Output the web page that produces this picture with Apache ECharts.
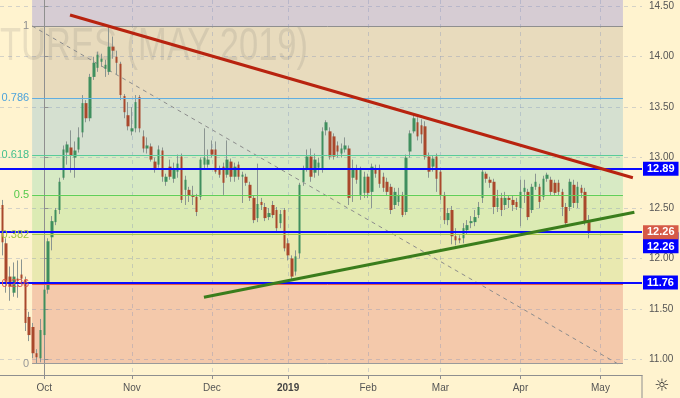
<!DOCTYPE html>
<html>
<head>
<meta charset="utf-8">
<script src="https://cdn.jsdelivr.net/npm/echarts@6/dist/echarts.min.js"></script>
<style>
html, body { margin: 0; padding: 0; background: #fff3cf; }
#chart { width: 680px; height: 398px; }
</style>
</head>
<body>
<div id="chart"></div>
<script>
// daily bars, index 0 = first trading day of Oct 2018
var firstBar = -11;
var open = [
    12.53, 12.15, 11.82, 11.66, 11.80, 11.84, 11.79, 11.42, 11.32, 11.06,
    11.01, 11.24, 11.69, 12.21, 12.36, 12.48, 12.80, 13.05, 13.10, 13.00,
    13.08, 13.25, 13.54, 13.39, 13.80, 13.89, 13.95, 13.88, 13.85, 14.10,
    14.00, 13.93, 13.61, 13.42, 13.26, 13.29, 13.60, 13.21, 13.09, 13.11,
    12.96, 12.93, 13.07, 12.76, 12.91, 12.79, 12.86, 13.01, 12.68, 12.68,
    12.63, 12.61, 12.61, 12.93, 12.93, 13.08, 13.08, 12.88, 12.91, 12.83,
    12.96, 12.81, 12.93, 12.81, 12.81, 12.73, 12.60, 12.40, 12.56, 12.51,
    12.41, 12.53, 12.48, 12.35, 12.48, 12.15, 12.00, 11.87, 12.05, 12.76,
    12.89, 13.01, 12.85, 12.90, 12.89, 13.27, 13.26, 13.21, 13.12, 13.04,
    13.08, 13.09, 12.80, 12.89, 12.63, 12.65, 12.81, 12.66, 12.89, 12.89,
    12.81, 12.76, 12.71, 12.53, 12.56, 12.63, 12.46, 13.06, 13.26, 13.35,
    13.32, 13.31, 13.01, 12.91, 13.01, 12.86, 12.63, 12.38, 12.48, 12.22,
    12.20, 12.20, 12.28, 12.35, 12.36, 12.43, 12.60, 12.84, 12.78, 12.76,
    12.51, 12.60, 12.53, 12.60, 12.58, 12.56, 12.50, 12.66, 12.66, 12.48,
    12.71, 12.71, 12.61, 12.79, 12.78, 12.75, 12.75, 12.66, 12.51, 12.51,
    12.73, 12.55, 12.70, 12.66, 12.36
];
var close = [
    12.16, 11.77, 11.72, 11.82, 11.78, 11.80, 11.36, 11.24, 11.06, 11.02,
    11.29, 11.69, 12.17, 12.37, 12.48, 12.76, 13.08, 13.13, 13.02, 13.07,
    13.20, 13.54, 13.39, 13.80, 13.94, 14.02, 13.98, 13.92, 14.10, 14.06,
    13.94, 13.62, 13.45, 13.31, 13.29, 13.55, 13.29, 13.09, 13.12, 12.98,
    12.88, 13.08, 12.81, 12.81, 12.81, 12.89, 12.94, 12.58, 12.78, 12.62,
    12.61, 12.46, 12.98, 13.00, 12.98, 13.03, 12.86, 12.83, 12.75, 12.98,
    12.81, 12.91, 12.81, 12.83, 12.75, 12.60, 12.38, 12.54, 12.53, 12.40,
    12.45, 12.43, 12.30, 12.44, 12.10, 12.03, 11.82, 12.02, 12.73, 12.88,
    13.01, 12.81, 12.98, 12.95, 13.26, 13.35, 13.01, 13.01, 13.06, 13.09,
    13.12, 12.60, 12.88, 12.78, 12.88, 12.81, 12.65, 12.91, 12.84, 12.74,
    12.70, 12.66, 12.48, 12.66, 12.63, 12.43, 13.00, 13.24, 13.39, 13.21,
    13.23, 13.01, 12.86, 12.99, 12.79, 12.63, 12.38, 12.45, 12.22, 12.18,
    12.18, 12.30, 12.33, 12.37, 12.41, 12.51, 12.86, 12.79, 12.75, 12.51,
    12.60, 12.48, 12.60, 12.58, 12.53, 12.51, 12.66, 12.70, 12.41, 12.71,
    12.76, 12.56, 12.79, 12.83, 12.66, 12.65, 12.66, 12.51, 12.35, 12.76,
    12.55, 12.71, 12.65, 12.36, 12.26
];
var low = [
    12.03, 11.66, 11.58, 11.62, 11.61, 11.74, 11.28, 11.18, 11.01, 10.96,
    10.97, 11.12, 11.65, 12.08, 12.33, 12.44, 12.78, 12.93, 12.85, 12.80,
    13.05, 13.20, 13.35, 13.36, 13.77, 13.85, 13.90, 13.80, 13.82, 13.98,
    13.82, 13.57, 13.39, 13.27, 13.22, 13.25, 13.25, 13.05, 13.04, 12.96,
    12.85, 12.90, 12.76, 12.72, 12.78, 12.75, 12.80, 12.55, 12.53, 12.56,
    12.53, 12.42, 12.58, 12.88, 12.90, 13.00, 12.84, 12.80, 12.63, 12.80,
    12.76, 12.76, 12.78, 12.55, 12.72, 12.57, 12.35, 12.36, 12.48, 12.37,
    12.38, 12.40, 12.27, 12.30, 12.07, 11.98, 11.79, 11.83, 12.00, 12.72,
    12.86, 12.76, 12.80, 12.82, 12.85, 13.22, 12.98, 12.98, 13.00, 13.00,
    13.05, 12.53, 12.56, 12.74, 12.58, 12.60, 12.60, 12.50, 12.80, 12.70,
    12.66, 12.62, 12.44, 12.49, 12.52, 12.41, 12.43, 13.00, 13.24, 13.17,
    13.14, 12.98, 12.80, 12.86, 12.66, 12.58, 12.34, 12.33, 12.14, 12.13,
    12.15, 12.15, 12.24, 12.30, 12.32, 12.40, 12.55, 12.75, 12.70, 12.44,
    12.46, 12.42, 12.48, 12.50, 12.47, 12.48, 12.32, 12.55, 12.38, 12.45,
    12.68, 12.50, 12.58, 12.76, 12.62, 12.62, 12.62, 12.42, 12.32, 12.47,
    12.50, 12.50, 12.60, 12.33, 12.20
];
var high = [
    12.58, 12.20, 11.92, 11.96, 11.98, 11.99, 11.82, 11.47, 11.36, 11.10,
    11.40, 11.74, 12.20, 12.42, 12.50, 12.80, 13.12, 13.16, 13.27, 13.16,
    13.30, 13.62, 13.57, 13.83, 14.00, 14.05, 14.03, 13.97, 14.30, 14.20,
    14.06, 13.95, 13.63, 13.55, 13.50, 13.62, 13.62, 13.27, 13.20, 13.14,
    13.00, 13.12, 13.10, 12.84, 12.98, 12.95, 13.03, 13.04, 12.82, 12.71,
    12.72, 12.64, 13.00, 13.29, 13.08, 13.17, 13.16, 12.92, 12.95, 13.17,
    12.99, 12.95, 12.96, 12.86, 12.84, 12.76, 12.62, 12.94, 12.60, 12.55,
    12.50, 12.57, 12.51, 12.48, 12.50, 12.20, 12.03, 12.08, 12.75, 12.92,
    13.08, 13.09, 13.04, 13.00, 13.30, 13.37, 13.30, 13.24, 13.16, 13.14,
    13.20, 13.12, 12.98, 12.93, 12.91, 12.86, 12.84, 12.94, 12.93, 12.93,
    12.85, 12.80, 12.74, 12.70, 12.70, 12.66, 13.03, 13.27, 13.43, 13.40,
    13.38, 13.36, 13.05, 13.02, 13.04, 12.90, 12.66, 12.50, 12.52, 12.30,
    12.23, 12.35, 12.38, 12.42, 12.48, 12.56, 12.88, 12.86, 12.81, 12.79,
    12.68, 12.65, 12.66, 12.62, 12.62, 12.60, 12.78, 12.78, 12.69, 12.74,
    12.84, 12.74, 12.82, 12.85, 12.81, 12.78, 12.78, 12.69, 12.55, 12.79,
    12.78, 12.76, 12.73, 12.70, 12.43
];

// axis ticks
var monthBars = [0, 23, 44, 64, 85, 104, 125, 146];
var monthLabels = ['Oct', 'Nov', 'Dec', '2019', 'Feb', 'Mar', 'Apr', 'May'];
var priceTicks = [11.00, 11.50, 12.00, 12.50, 13.00, 13.50, 14.00, 14.50];

// fibonacci retracement
var fibLow = 10.956, fibHigh = 14.305;
var fibStartBar = -3.2, fibEndBar = 151.9;
var fibRatios = [0, 0.236, 0.382, 0.5, 0.618, 0.786, 1, 1.618];
var fibLabels = ['0', '0.236', '0.382', '0.5', '0.618', '0.786', '1'];

// drawn lines
var redTrend = [[6.75, 14.414], [154.5, 12.80]];
var greenTrend = [[41.9, 11.615], [154.9, 12.458]];
var fibDiagonal = [[-3.2, 14.305], [150.5, 10.956]];
var blueLevels = [12.89, 12.26, 11.76];
var lastPrice = 12.26;

var bandColors = ['#f4c9ab', '#e9e9b0', '#dcebb4', '#d7eac4', '#d5e0d0', '#e8dbbd', '#d6ccd3'];
var fibLineColors = ['#9a9a9a', '#e85a4a', '#a9c94a', '#5fcf5a', '#5acb9a', '#62aee0', '#8f8f8f'];
var fibTextColors = ['#999999', '#e05545', '#9ec43c', '#55c94b', '#45c08e', '#4ea3db', '#909090'];

function fibValue(r) {
    return fibLow + r * (fibHigh - fibLow);
}

var wickData = open.map(function (o, k) {
    return [firstBar + k, o, close[k], low[k], high[k]];
});
var bodyData = open.map(function (o, k) {
    return [firstBar + k, o, close[k], Math.min(o, close[k]), Math.max(o, close[k])];
});

var bands = [];
for (var k = 0; k < fibRatios.length - 1; k++) {
    bands.push([
        { coord: [fibStartBar, fibValue(fibRatios[k])], itemStyle: { color: bandColors[k] } },
        { coord: [fibEndBar, fibValue(fibRatios[k + 1])] }
    ]);
}
var fibLines = fibLabels.map(function (t, k) {
    var v = fibValue(fibRatios[k]);
    return [
        {
            coord: [fibStartBar, v],
            lineStyle: { color: fibLineColors[k], width: 1, type: 'solid' },
            label: { show: true, position: 'start', distance: 3, formatter: t, color: fibTextColors[k], fontSize: 11 }
        },
        { coord: [fibEndBar, v] }
    ];
});

var priceLines = blueLevels.map(function (v, k) {
    var item = { yAxis: v };
    if (k === 1) {
        item.label = { verticalAlign: 'top', padding: [9, 4, 1, 4] };
    }
    return item;
});
// last price tag, drawn over the blue one
priceLines.push({
    yAxis: lastPrice,
    lineStyle: { color: 'rgba(0,0,0,0)', width: 0 },
    label: { backgroundColor: '#d65a47', color: '#fff' }
});

var splitStyle = { color: 'rgba(120,140,185,0.32)', type: [4, 4], width: 1 };

var chart = echarts.init(document.getElementById('chart'));
var option = {
    animation: false,
    backgroundColor: '#fff3cf',
    textStyle: { fontFamily: 'Liberation Sans' },
    grid: { left: 0, right: 38, top: 0, bottom: 23 },
    xAxis: {
        type: 'value',
        min: -11.63,
        max: 156.9,
        z: 2,
        axisLine: { show: true, lineStyle: { color: '#8f8f8f' } },
        axisTick: { show: true, length: 4, customValues: monthBars, lineStyle: { color: '#8f8f8f' } },
        axisLabel: {
            customValues: monthBars,
            color: '#555',
            fontSize: 10,
            margin: 8,
            formatter: function (v) {
                var i = monthBars.indexOf(v);
                if (i < 0) return '';
                return i === 3 ? '{b|' + monthLabels[i] + '}' : monthLabels[i];
            },
            rich: { b: { fontWeight: 'bold', color: '#444', fontSize: 10 } }
        },
        splitLine: { show: true, lineStyle: splitStyle }
    },
    yAxis: {
        type: 'value',
        position: 'right',
        min: 10.844,
        max: 14.5625,
        z: 2,
        axisLine: { show: true, lineStyle: { color: '#8f8f8f' } },
        axisTick: { show: true, length: 4, customValues: priceTicks, lineStyle: { color: '#8f8f8f' } },
        axisLabel: {
            customValues: priceTicks,
            color: '#555',
            fontSize: 10,
            margin: 7,
            formatter: function (v) { return v.toFixed(2); }
        },
        splitLine: { show: true, lineStyle: splitStyle }
    },
    graphic: [
        {
            type: 'text',
            x: 308,
            y: 47,
            scaleX: 0.75,
            z: 1.5,
            silent: true,
            style: {
                text: 'SUGAR #11 FUTURES (MAY 2019)',
                align: 'right',
                verticalAlign: 'middle',
                font: '46px Liberation Sans',
                fill: 'rgba(110,110,110,0.15)'
            }
        },
        {
            type: 'line',
            shape: { x1: 642, y1: 375, x2: 642, y2: 398 },
            style: { stroke: '#8f8f8f', lineWidth: 1 }
        },
        {
            type: 'text',
            x: 662,
            y: 387,
            style: { text: '\u263C', align: 'center', verticalAlign: 'middle', font: '17px DejaVu Sans', fill: '#333' }
        }
    ],
    series: [
        {
            // fib diagonal + levels + zones
            type: 'line',
            data: fibDiagonal,
            symbol: 'none',
            z: 2,
            lineStyle: { color: '#8c8c8c', width: 1, type: [4, 4] },
            markArea: { silent: true, data: bands },
            markLine: { silent: true, symbol: ['none', 'none'], data: fibLines }
        },
        {
            type: 'candlestick',
            data: wickData,
            barWidth: 1,
            z: 3,
            itemStyle: {
                color: 'transparent', color0: 'transparent',
                borderColor: '#8b9591', borderColor0: '#8b9591', borderWidth: 1
            }
        },
        {
            type: 'candlestick',
            data: bodyData,
            barWidth: 3,
            z: 4,
            itemStyle: {
                color: '#3f8f5e', color0: '#a9482c',
                borderColor: '#3f8f5e', borderColor0: '#a9482c', borderWidth: 0
            },
            markLine: {
                silent: true,
                symbol: ['none', 'none'],
                lineStyle: { color: '#0a0aff', width: 2, type: 'solid' },
                label: {
                    show: true,
                    position: 'end',
                    distance: 1,
                    backgroundColor: '#0000ff',
                    color: '#fff',
                    fontWeight: 'bold',
                    fontSize: 11,
                    padding: [2, 4, 1, 4],
                    formatter: function (p) { return p.value.toFixed(2); }
                },
                data: priceLines
            }
        },
        {
            type: 'line',
            data: redTrend,
            symbol: 'none',
            z: 5,
            lineStyle: { color: '#b8230f', width: 3 }
        },
        {
            type: 'line',
            data: greenTrend,
            symbol: 'none',
            z: 5,
            lineStyle: { color: '#3a7d1c', width: 3 }
        }
    ]
};
chart.setOption(option);
</script>
</body>
</html>
